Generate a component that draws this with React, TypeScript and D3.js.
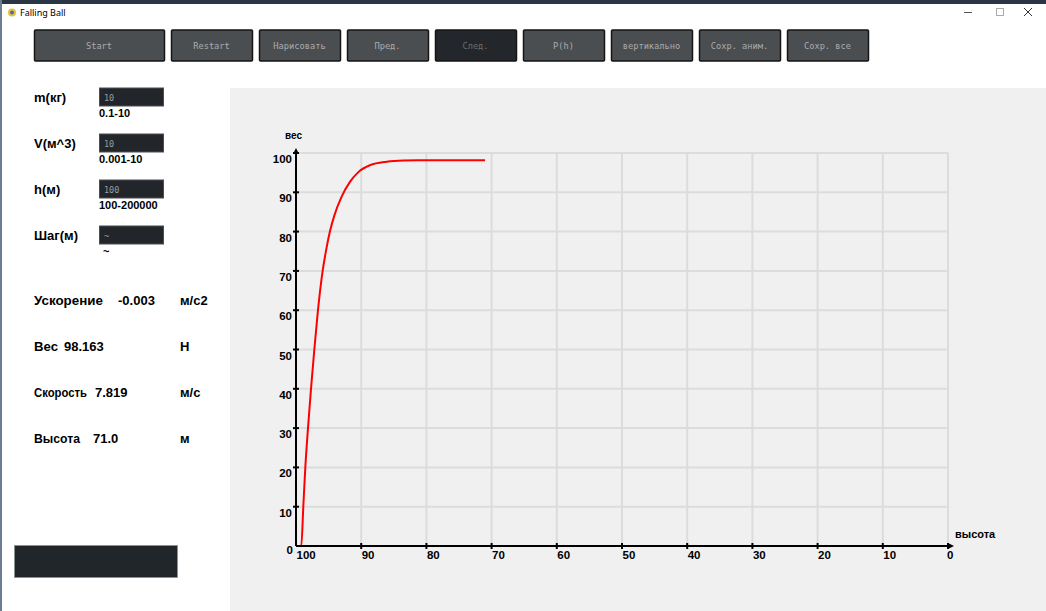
import React from "react";
import * as d3 from "d3";

// ---- data ----
const buttonLabels = ["Start", "Restart", "Нарисовать", "Пред.", "След.", "P(h)", "вертикально", "Сохр. аним.", "Сохр. все"];
const activeButton = "След.";

const inputLabels = ["m(кг)", "V(м^3)", "h(м)", "Шаг(м)"];
const inputValues = ["10", "10", "100", "~"];
const inputRanges = ["0.1-10", "0.001-10", "100-200000", "~"];

const statNames = ["Ускорение", "Вес", "Скорость", "Высота"];
const statValues = ["-0.003", "98.163", "7.819", "71.0"];
const statUnits = ["м/с2", "Н", "м/с", "м"];

const xTicks = [100, 90, 80, 70, 60, 50, 40, 30, 20, 10, 0];
const yTicks = [0, 10, 20, 30, 40, 50, 60, 70, 80, 90, 100];

// height (м) and weight (вес) of the curve
const heights = [100, 99.19, 98.88, 98.57, 98.16, 97.7, 97.19, 96.63, 96.0, 95.3, 94.8, 94.1, 93.0, 91.7, 90.4, 88.65, 86.1, 83.5, 81.2, 78, 75, 71];
const weights = [0, 0, 10, 20, 30, 40, 50, 60, 69, 76, 80.0, 84.2, 88.9, 92.7, 95.2, 96.9, 97.8, 98.1, 98.15, 98.16, 98.163, 98.163];

const W = 1046;
const H = 611;
const sans = "'Liberation Sans', Arial, sans-serif";
const mono = "'DejaVu Sans Mono', monospace";

export default function App() {
  const x = d3.scaleLinear().domain([100, 0]).range([296, 948]);
  const y = d3.scaleLinear().domain([0, 100]).range([546, 153]);
  const pts = heights.map((h, i) => [h, weights[i]] as [number, number]);
  const line = d3
    .line<[number, number]>()
    .x((d) => x(d[0]))
    .y((d) => y(d[1]))
    .curve(d3.curveMonotoneX);

  const x0 = x(100);
  const y0 = y(0);
  const nameLen = [69, 24, 53, 46];

  return (
    <svg width={W} height={H} style={{ position: "absolute", left: 0, top: 0 }} fontFamily={sans}>
      <rect x={0} y={0} width={W} height={H} fill="#ffffff" />
      {/* top dark strip and left edge */}
      <rect x={0} y={0} width={W} height={4} fill="#2a3644" />
      <rect x={0} y={0} width={2} height={H} fill="#6b7d90" />
      {/* title bar */}
      <circle cx={12} cy={12.5} r={4} fill="#e8c23a" />
      <circle cx={12} cy={12.5} r={2} fill="#4a6fa5" />
      <text x={20} y={16} fontSize={9} fontFamily="'Noto Sans', sans-serif" fill="#000">Falling Ball</text>
      <line x1={964} x2={972} y1={12.5} y2={12.5} stroke="#555" strokeWidth={1} />
      <rect x={996.5} y={8.5} width={7} height={7} fill="none" stroke="#aaa" strokeWidth={1} />
      <path d="M1024,8 L1032,16 M1032,8 L1024,16" stroke="#333" strokeWidth={1} />

      {/* buttons */}
      {buttonLabels.map((b, i) => {
        const bx = i === 0 ? 34 : 171 + (i - 1) * 88;
        const bw = i === 0 ? 130 : 81;
        const active = b === activeButton;
        return (
          <g key={b}>
            <rect x={bx + 0.5} y={30} width={bw} height={31} fill={active ? "#23272b" : "#4b4e51"} stroke="#151515" strokeWidth={1.5} rx={1} />
            <text x={bx + bw / 2} y={48.5} textAnchor="middle" fontFamily={mono} fontSize={8.7} fill={active ? "#6a6d70" : "#a9abad"}>{b}</text>
          </g>
        );
      })}

      {/* inputs */}
      {inputLabels.map((l, i) => {
        const cy = 97 + i * 46;
        return (
          <g key={l}>
            <text x={34} y={cy + 5} fontSize={13} fontWeight="bold" fill="#000">{l}</text>
            <rect x={99.5} y={cy - 9} width={64} height={18} fill="#22262a" stroke="#4a4f55" strokeWidth={1} />
            <text x={104} y={cy + 4} fontFamily={mono} fontSize={8.5} fill="#9a9ea2">{inputValues[i]}</text>
            <text x={i === 3 ? 103 : 99} y={cy + 20} fontSize={11} fontWeight="bold" fill="#000">{inputRanges[i]}</text>
          </g>
        );
      })}

      {/* stats */}
      {statNames.map((s, i) => {
        const cy = 300 + i * 46;
        const valueX = [118, 64, 95, 93][i];
        return (
          <g key={s}>
            <text x={34} y={cy + 5} fontSize={13} fontWeight="bold" fill="#000" textLength={nameLen[i]} lengthAdjust="spacingAndGlyphs">{s}</text>
            <text x={valueX} y={cy + 5} fontSize={13} fontWeight="bold" fill="#000">{statValues[i]}</text>
            <text x={180} y={cy + 5} fontSize={13} fontWeight="bold" fill="#000">{statUnits[i]}</text>
          </g>
        );
      })}

      {/* dark box */}
      <rect x={14.5} y={545.5} width={163} height={32} fill="#21262b" stroke="#8a9096" strokeWidth={0.8} />

      {/* plot panel */}
      <rect x={230} y={88} width={W - 230} height={H - 88} fill="#f0f0f0" />

      {/* grid */}
      {yTicks.filter((t) => t > 0).map((t) => (
        <line key={"gy" + t} x1={x0} x2={x(0)} y1={y(t)} y2={y(t)} stroke="#dcdcdc" strokeWidth={2} />
      ))}
      {xTicks.filter((t) => t < 100).map((t) => (
        <line key={"gx" + t} x1={x(t)} x2={x(t)} y1={y(100)} y2={y0} stroke="#dcdcdc" strokeWidth={2} />
      ))}

      {/* curve */}
      <path d={line(pts) || ""} fill="none" stroke="#ff0000" strokeWidth={2} strokeLinejoin="round" />

      {/* axes */}
      <line x1={x0} x2={x0} y1={y0} y2={152} stroke="#000" strokeWidth={2} />
      <path d={`M${x0 - 3},${154} L${x0},${148} L${x0 + 3},${154} Z`} fill="#000" />
      <line x1={x0} x2={950} y1={y0} y2={y0} stroke="#000" strokeWidth={2} />
      <path d={`M${948},${y0 - 3} L${954},${y0} L${948},${y0 + 3} Z`} fill="#000" />

      {yTicks.map((t) => (
        <g key={"ty" + t}>
          {t > 0 && <line x1={x0 - 3} x2={x0 + 3} y1={y(t)} y2={y(t)} stroke="#000" strokeWidth={2} />}
          <text x={t === 0 ? 293 : 292} y={y(t) + (t === 0 ? 8 : 10)} textAnchor="end" fontSize={11.5} fontWeight="bold" fill="#000">{t}</text>
        </g>
      ))}
      {xTicks.map((t) => (
        <g key={"tx" + t}>
          {t < 100 && <line x1={x(t)} x2={x(t)} y1={y0 - 3} y2={y0 + 3} stroke="#000" strokeWidth={2} />}
          <text x={x(t) + (t === 0 ? -1 : 0.5)} y={559} fontSize={11.5} fontWeight="bold" fill="#000">{t}</text>
        </g>
      ))}

      <text x={285} y={139} fontSize={10} fontWeight="bold" fill="#000">вес</text>
      <text x={955} y={538} fontSize={11} fontWeight="bold" fill="#000">высота</text>
    </svg>
  );
}
